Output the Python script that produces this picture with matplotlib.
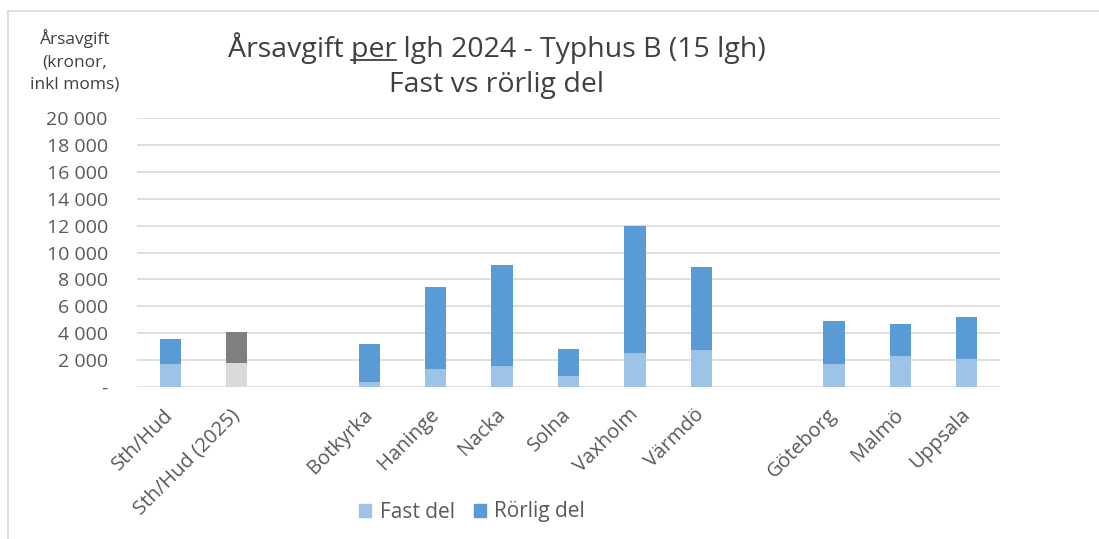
import matplotlib
matplotlib.use('Agg')
import matplotlib.pyplot as plt
from matplotlib.patches import Patch
from matplotlib.lines import Line2D

categories = ['Sth/Hud', 'Sth/Hud (2025)', '', 'Botkyrka', 'Haninge', 'Nacka', 'Solna',
              'Vaxholm', 'Värmdö', '', 'Göteborg', 'Malmö', 'Uppsala']
fast_del = [1700, 1780, 0, 370, 1330, 1580, 815, 2510, 2730, 0, 1690, 2310, 2110]
rorlig_del = [1880, 2290, 0, 2815, 6120, 7470, 1975, 9490, 6165, 0, 3200, 2390, 3060]
yticks = [0, 2000, 4000, 6000, 8000, 10000, 12000, 14000, 16000, 18000, 20000]
ytick_labels = ['-', '2 000', '4 000', '6 000', '8 000', '10 000', '12 000',
                '14 000', '16 000', '18 000', '20 000']

plt.rcParams['font.family'] = ['Open Sans', 'DejaVu Sans']
txt = '#595959'
W, H = 1099, 539

fig = plt.figure(figsize=(10.99, 5.39), dpi=100)
ax = fig.add_axes([137/W, 1-387/H, (1000-137)/W, (387-118)/H])

fast_c = ['#9DC3E6'] * len(categories)
ror_c = ['#5B9BD5'] * len(categories)
fast_c[1] = '#D9D9D9'
ror_c[1] = '#7F7F7F'

x = list(range(len(categories)))
ax.bar(x, fast_del, width=0.32, color=fast_c, zorder=3)
ax.bar(x, rorlig_del, width=0.32, bottom=fast_del, color=ror_c, zorder=3)

ax.set_xlim(-0.5, len(categories)-0.5)
ax.set_ylim(0, 20000)
ax.set_yticks(yticks)
ax.set_yticklabels(ytick_labels, fontsize=14, color=txt)
ax.yaxis.grid(True, color='#D9D9D9', linewidth=1.2, zorder=0)
ax.tick_params(axis='y', length=0, pad=21)
ax.tick_params(axis='x', length=0, pad=18)
ax.set_xticks(x)
ax.set_xticklabels(categories, rotation=45, ha='right', va='center', rotation_mode='anchor',
                   fontsize=14.5, color=txt)
for s in ax.spines.values():
    s.set_visible(False)

# title, with "per" underlined
title = 'Årsavgift per lgh 2024 - Typhus B (15 lgh)'
tfs = 20.5
tx, ty = 497/W, 1-48/H
t = fig.text(tx, ty, title, ha='center', va='center', fontsize=tfs, color='#404040')
fig.canvas.draw()
r = fig.canvas.get_renderer()
full = t.get_window_extent(r)
pre = fig.text(0, 0, 'Årsavgift ', fontsize=tfs)
pw = pre.get_window_extent(r).width
pre.remove()
per = fig.text(0, 0, 'per', fontsize=tfs)
perw = per.get_window_extent(r).width
per.remove()
x0 = (full.x0 + pw) / W
x1 = (full.x0 + pw + perw) / W
uy = (full.y0 + 4) / H
fig.add_artist(Line2D([x0, x1], [uy, uy], color='#404040', linewidth=1.3))
fig.text(tx, 1-85/H, 'Fast vs rörlig del', ha='center', va='center',
         fontsize=tfs, color='#404040')

fig.text(75/W, 1-61/H, 'Årsavgift\n(kronor,\ninkl moms)', ha='center', va='center',
         fontsize=12.5, color='#404040', linespacing=1.5)

handles = [Patch(color='#9DC3E6', label='Fast del'), Patch(color='#5B9BD5', label='Rörlig del')]
fig.legend(handles=handles, loc='center', bbox_to_anchor=(472/W, 1-512/H), ncol=2, frameon=False,
           fontsize=15, handlelength=0.6, handleheight=0.6, handletextpad=0.4,
           columnspacing=0.9, labelcolor=txt)

# chart frame
fig.add_artist(Line2D([8/W, 1], [1-11/H, 1-11/H], color='#D9D9D9', linewidth=1.2))
fig.add_artist(Line2D([8/W, 8/W], [0, 1-11/H], color='#D9D9D9', linewidth=1.2))

fig.savefig('out.png', dpi=100)
